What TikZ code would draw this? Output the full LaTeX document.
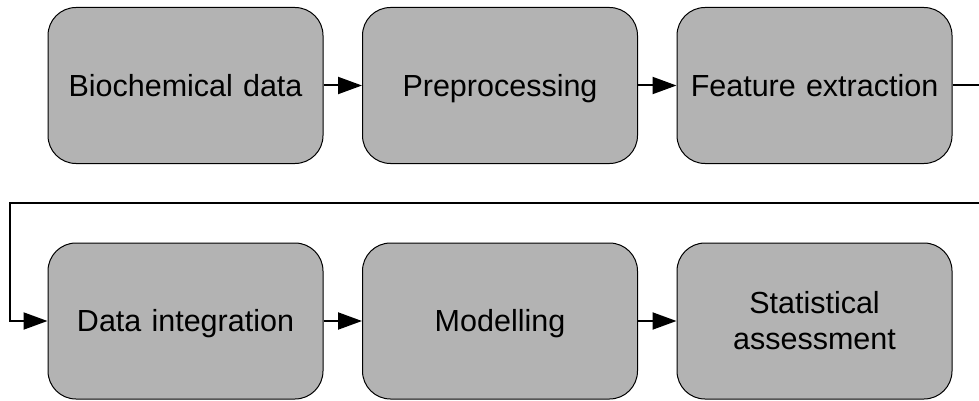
\documentclass[tikz,border=0pt]{standalone}
\usepackage{fontspec}
\setmainfont{Liberation Sans}
\usetikzlibrary{shapes.geometric, arrows, arrows.meta}
\definecolor{boxgray}{HTML}{B3B3B3}
\tikzstyle{stage} = [rectangle, rounded corners=28pt, minimum width=275pt, minimum height=156pt, text centered, text width=265pt, text height=21.8pt, text depth=0pt, draw=black, line width=1pt, fill=boxgray, font=\fontsize{30.5}{36}\selectfont]
\tikzstyle{arrow} = [line width=2pt, -{Triangle[length=24pt,width=17pt]}]

\begin{document}
\begin{tikzpicture}[x=1pt, y=-1pt, node distance=314.5pt]
\useasboundingbox (0,0) rectangle (979,401);

%% NODES

\node (bio) [stage] at (185.5,85.5) {Biochemical data};
\node (pre) [stage, right of=bio] {Preprocessing};
\node (feat) [stage, right of=pre] {Feature extraction};
\node (integ) [stage, below of=bio, node distance=235.5pt] {Data integration};
\node (model) [stage, right of=integ] {Modelling};
\node (stat) [stage, right of=model, text depth=36pt] {Statistical\\assessment};

\coordinate (c1) at (995,85.5);
\coordinate (c2) at (995,203);
\coordinate (c3) at (10,203);
\coordinate (c4) at (10,321);

%% ARROWS

\draw [arrow] (bio) -- (pre);
\draw [arrow] (pre) -- (feat);
\draw [arrow] (feat.east) -- (c1) -- (c2) -- (c3) -- (c4) -- (integ.west);
\draw [arrow] (integ) -- (model);
\draw [arrow] (model) -- (stat);

\end{tikzpicture}
\end{document}
